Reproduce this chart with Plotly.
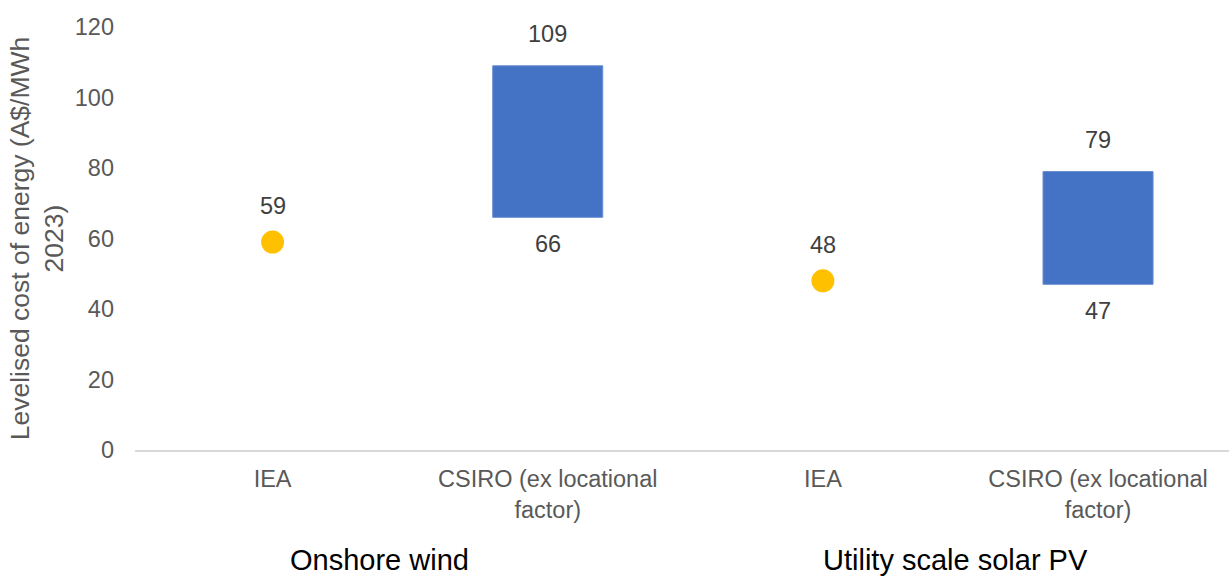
import plotly.graph_objects as go

# Cost estimates, A$/MWh (2023)
categories = ["IEA", "CSIRO (ex locational<br>factor)", "IEA", "CSIRO (ex locational<br>factor)"]
groups = ["Onshore wind", "Utility scale solar PV"]
iea_values = [59, 48]
csiro_low = [66, 47]
csiro_high = [109, 79]

y_ticks = [0, 20, 40, 60, 80, 100, 120]

FONT = "Liberation Sans, Arial, sans-serif"
GREY = "#595959"
LABEL = "#404040"

iea_x = [0, 2]
csiro_x = [1, 3]

fig = go.Figure()

# CSIRO range as floating bars
fig.add_trace(go.Bar(
    x=csiro_x,
    y=[h - l for h, l in zip(csiro_high, csiro_low)],
    base=csiro_low,
    width=0.4,
    marker=dict(color="#4472C4", line=dict(color="#6A8FD3", width=1)),
    hoverinfo="skip",
    showlegend=False,
))

# IEA point estimates
fig.add_trace(go.Scatter(
    x=iea_x,
    y=iea_values,
    mode="markers",
    marker=dict(color="#FFC000", size=23, line=dict(width=0)),
    hoverinfo="skip",
    showlegend=False,
))

# Value labels
for x, v in zip(iea_x, iea_values):
    fig.add_annotation(x=x, y=v, text=str(v), showarrow=False, yshift=36,
                       font=dict(family=FONT, size=23.5, color=LABEL))
for x, lo, hi in zip(csiro_x, csiro_low, csiro_high):
    fig.add_annotation(x=x, y=hi, text=str(hi), showarrow=False, yshift=32,
                       font=dict(family=FONT, size=23.5, color=LABEL))
    fig.add_annotation(x=x, y=lo, text=str(lo), showarrow=False, yshift=-27,
                       font=dict(family=FONT, size=23.5, color=LABEL))

# Group labels beneath the category axis
for gx, name in zip([0.2238, 0.7496], groups):
    fig.add_annotation(x=gx, y=-0.259, xref="paper", yref="paper", text=name,
                       showarrow=False, xanchor="center", yanchor="middle",
                       borderpad=0,
                       font=dict(family=FONT, size=29, color="#000000"))

fig.update_layout(
    width=1229,
    height=578,
    margin=dict(l=135, r=0, t=27, b=128),
    paper_bgcolor="white",
    plot_bgcolor="white",
    font=dict(family=FONT, color=GREY),
    xaxis=dict(
        range=[-0.5, 3.476],
        tickmode="array",
        tickvals=[0, 1, 2, 3],
        ticktext=categories,
        tickfont=dict(family=FONT, size=23.5, color=GREY),
        showgrid=False,
        zeroline=False,
        showline=True,
        linecolor="#D9D9D9",
        linewidth=2,
        ticks="",
        ticklabelstandoff=7,
    ),
    yaxis=dict(
        range=[0, 120],
        tickmode="array",
        tickvals=y_ticks,
        tickfont=dict(family=FONT, size=23.5, color=GREY),
        showgrid=False,
        zeroline=False,
        showline=False,
        ticks="",
        ticklabelstandoff=20,
        title=dict(
            text="Levelised cost of energy (A$/MWh<br>2023)",
            font=dict(family=FONT, size=26.5, color=GREY),
            standoff=3,
        ),
    ),
)

fig.write_html("out.html")
